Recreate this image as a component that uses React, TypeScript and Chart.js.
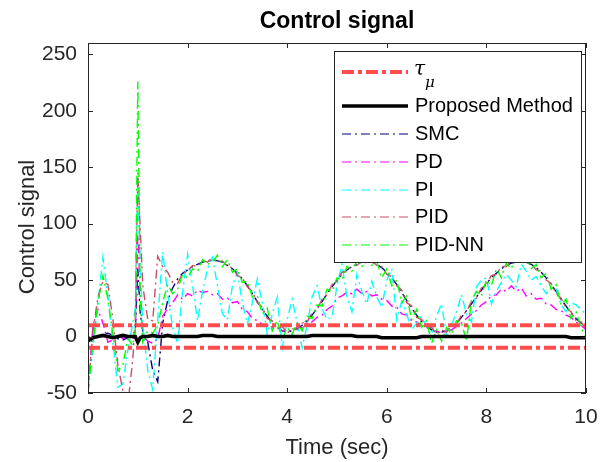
import React, { useEffect, useRef } from "react";
import { Chart, registerables } from "chart.js";

Chart.register(...registerables);

// ---------- data ----------
const timeSec = [
  0, 0.1, 0.2, 0.3, 0.4, 0.5, 0.6, 0.7, 0.8, 0.9,
  0.95, 1.0, 1.05,
  1.1, 1.2, 1.3, 1.4, 1.5, 1.6, 1.7, 1.8, 1.9,
  2.0, 2.1, 2.2, 2.3, 2.4, 2.5, 2.6, 2.7, 2.8, 2.9,
  3.0, 3.1, 3.2, 3.3, 3.4, 3.5, 3.6, 3.7, 3.8, 3.9,
  4.0, 4.1, 4.2, 4.3, 4.4, 4.5, 4.6, 4.7, 4.8, 4.9,
  5.0, 5.1, 5.2, 5.3, 5.4, 5.5, 5.6, 5.7, 5.8, 5.9,
  6.0, 6.1, 6.2, 6.3, 6.4, 6.5, 6.6, 6.7, 6.8, 6.9,
  7.0, 7.1, 7.2, 7.3, 7.4, 7.5, 7.6, 7.7, 7.8, 7.9,
  8.0, 8.1, 8.2, 8.3, 8.4, 8.5, 8.6, 8.7, 8.8, 8.9,
  9.0, 9.1, 9.2, 9.3, 9.4, 9.5, 9.6, 9.7, 9.8, 9.9,
  10.0,
];

const tauTimes = [0, 10];
const tauUpper = [10, 10];
const tauLower = [-10, -10];

const proposedValues = [
  -4, -1, 0, 1, 0, -1, 0, 1, 0, 0,
  0, -5, -1,
  0, 0, 1, 0, 0, 1, 0, 0, 0,
  0, 0, 0, 1, 1, 1, 0, 0, 0, 0,
  0, 0, 0, 0, 0, 0, 0, 0, 0, 0,
  0, 0, 0, 0, 0, 1, 1, 1, 1, 1,
  1, 1, 1, 1, 0, 0, 0, 0, 0, -1,
  -1, -1, -1, -1, -1, -1, -1, 0, 0, 0,
  0, 0, 0, 0, 0, 0, 0, 0, 0, 0,
  0, 0, 0, 0, 0, 0, 0, 0, 0, 0,
  0, 0, 0, 0, 0, 0, 0, -1, -1, -1,
  -1,
];

const smcValues = [
  0, -2, 0, 2, 3, 1, -2, -3, -1, 2,
  5, 60, 20,
  5, -5, -30, -40, 12, 32, 43, 51, 56,
  59, 62, 64, 66, 67, 68, 67, 66, 63, 60,
  56, 51, 45, 38, 31, 24, 18, 12, 8, 5,
  4, 5, 7, 10, 14, 19, 25, 31, 38, 44,
  50, 55, 59, 62, 64, 66, 66, 66, 64, 61,
  57, 52, 46, 39, 32, 25, 19, 13, 9, 6,
  4, 4, 5, 8, 12, 17, 23, 29, 35, 41,
  47, 52, 56, 60, 63, 65, 66, 66, 66, 64,
  61, 57, 52, 46, 40, 33, 27, 21, 16, 12,
  9,
];

const pdValues = [
  -50, 10, 24, 12, -5, -3, 2, -2, 1, -3,
  5, 90, 40,
  0, -4, -6, -2, 18, 25, 30, 37, 33,
  38, 36, 41, 39, 40, 37, 38, 33, 34, 30,
  31, 24, 22, 16, 14, 11, 10, 8, 9, 5,
  6, 5, 8, 8, 12, 13, 17, 19, 24, 27,
  34, 36, 39, 38, 42, 38, 40, 36, 37, 33,
  32, 27, 26, 20, 19, 14, 13, 9, 8, 5,
  5, 3, 5, 6, 9, 12, 16, 20, 23, 28,
  31, 36, 37, 42, 40, 45, 40, 43, 36, 38,
  33, 34, 29, 28, 24, 23, 19, 17, 13, 10,
  6,
];

const piValues = [
  -50, -10, 30, 70, 35, -5, -45, -42, -12, 12,
  25, 140, 60,
  10, -30, -47, 15, 75, 38, 8, -6, 40,
  73, 45, 14, 40, 60, 70, 45, 20, 15, 45,
  57, 30, 11, 30, 51, 30, 2, 20, 35, -10,
  15, 33, 12, -10, 10, 35, 45, 25, 15, 17,
  45, 64, 35, 22, 55, 40, 29, 49, 35, 26,
  50, 60, 15, 31, 20, 6, 12, 18, 8, 2,
  18, 29, 0, 10, 22, 37, 20, 13, 44, 50,
  52, 29, 40, 48, 55, 50, 44, 64, 58, 50,
  53, 45, 38, 44, 42, 28, 22, 30, 28, 24,
  20,
];

const pidValues = [
  -48, 5, 35, 49, 46, 15, -25, -48, -60, -20,
  15, 145, 95,
  45, 15, 14, 71, 62, 57, 48, 47, 56,
  58, 63, 62, 67, 66, 69, 66, 67, 62, 61,
  54, 52, 44, 40, 30, 26, 16, 14, 7, 9,
  3, 7, 6, 12, 13, 21, 24, 33, 37, 46,
  49, 57, 58, 63, 63, 67, 65, 67, 63, 62,
  55, 53, 45, 41, 30, 27, 17, 15, 7, 8,
  2, 6, 4, 10, 11, 19, 22, 31, 34, 43,
  46, 54, 55, 62, 62, 67, 65, 68, 65, 65,
  59, 58, 50, 47, 38, 34, 25, 22, 14, 13,
  7,
];

const pidNnValues = [
  -50, -5, 30, 54, 33, 2, -30, -25, -2, -8,
  5, 226, 30,
  -5, 5, 3, 10, 30, 46, 38, 42, 55,
  52, 60, 58, 68, 64, 66, 72, 62, 68, 57,
  60, 48, 49, 35, 36, 20, 25, 5, 14, -3,
  8, 2, 12, 5, 18, 16, 28, 27, 42, 40,
  52, 50, 62, 58, 67, 62, 70, 63, 66, 52,
  60, 45, 50, 30, 36, 15, 24, 8, 14, -6,
  6, -4, 8, 2, 14, 12, -4, 32, 40, 36,
  50, 45, 60, 52, 65, 60, 72, 64, 70, 60,
  64, 52, 56, 42, 46, 28, 33, 16, 22, 8,
  0,
];

const xTicks = [0, 2, 4, 6, 8, 10];
const yTicks = [-50, 0, 50, 100, 150, 200, 250];

const titleText = "Control signal";
const xLabel = "Time (sec)";
const yLabel = "Control signal";
const legendNames = ["τμ", "Proposed Method", "SMC", "PD", "PI", "PID", "PID-NN"];

// ---------- styles ----------
const FONT = '"Liberation Sans", Arial, Helvetica, sans-serif';
const AXIS_COLOR = "#262626";
const TAU_COLOR = "#FF4D4D";
const TAU_DASH = [12, 4, 4, 4];
const THIN_DASH = [9, 4, 2, 4];

const seriesStyles = [
  { color: TAU_COLOR, width: 4, dash: TAU_DASH },
  { color: "#000000", width: 3.5, dash: [] as number[] },
  { color: "#000080", width: 1.4, dash: THIN_DASH },
  { color: "#FF00FF", width: 1.4, dash: THIN_DASH },
  { color: "#00FFFF", width: 1.4, dash: THIN_DASH },
  { color: "#CC4D66", width: 1.4, dash: THIN_DASH },
  { color: "#00FF00", width: 1.4, dash: THIN_DASH },
];

const toPoints = (xs: number[], ys: number[]) => xs.map((x, i) => ({ x, y: ys[i] }));

const decorPlugin = {
  id: "decor",
  afterDatasetsDraw(chart: any) {
    const { ctx, chartArea: a, scales } = chart;
    ctx.save();
    ctx.strokeStyle = AXIS_COLOR;
    ctx.lineWidth = 1;
    ctx.setLineDash([]);
    ctx.strokeRect(a.left + 0.5, a.top + 0.5, a.right - a.left - 1, a.bottom - a.top - 1);
    ctx.beginPath();
    const tl = 5;
    xTicks.forEach((v) => {
      const x = Math.round(scales.x.getPixelForValue(v)) + 0.5;
      ctx.moveTo(x, a.bottom);
      ctx.lineTo(x, a.bottom - tl);
      ctx.moveTo(x, a.top);
      ctx.lineTo(x, a.top + tl);
    });
    yTicks.forEach((v) => {
      const y = Math.round(scales.y.getPixelForValue(v)) + 0.5;
      ctx.moveTo(a.left, y);
      ctx.lineTo(a.left + tl, y);
      ctx.moveTo(a.right, y);
      ctx.lineTo(a.right - tl, y);
    });
    ctx.stroke();
    ctx.restore();
  },
  afterDraw(chart: any) {
    const { ctx, chartArea: a } = chart;
    ctx.save();
    // title
    ctx.fillStyle = "#000000";
    ctx.font = `bold 23px ${FONT}`;
    ctx.textAlign = "center";
    ctx.textBaseline = "middle";
    ctx.fillText(titleText, (a.left + a.right) / 2, 22);
    // x label
    ctx.fillStyle = AXIS_COLOR;
    ctx.font = `22px ${FONT}`;
    ctx.fillText(xLabel, (a.left + a.right) / 2, 448);
    // y label
    ctx.save();
    ctx.translate(28, 227);
    ctx.rotate(-Math.PI / 2);
    ctx.fillText(yLabel, 0, 0);
    ctx.restore();

    // legend
    const bx = 334, by = 51, bw = 247, bh = 211;
    ctx.fillStyle = "#ffffff";
    ctx.fillRect(bx, by, bw, bh);
    ctx.strokeStyle = AXIS_COLOR;
    ctx.lineWidth = 1;
    ctx.setLineDash([]);
    ctx.strokeRect(bx + 0.5, by + 0.5, bw, bh);
    const rowY = [72, 106, 134, 162, 190, 217, 245];
    legendNames.forEach((name, i) => {
      const st = seriesStyles[i];
      const y = rowY[i];
      ctx.beginPath();
      ctx.strokeStyle = st.color;
      ctx.lineWidth = i === 0 ? 4 : i === 1 ? 3.5 : 1.2;
      ctx.setLineDash(st.dash);
      ctx.moveTo(342, y);
      ctx.lineTo(408, y);
      ctx.stroke();
      ctx.setLineDash([]);
      ctx.fillStyle = "#000000";
      ctx.textAlign = "left";
      ctx.textBaseline = "middle";
      if (i === 0) {
        ctx.font = `italic 20px "DejaVu Serif", serif`;
        ctx.fillText("τ", 414, y - 2);
        ctx.font = `italic 15px "DejaVu Serif", serif`;
        ctx.fillText("μ", 425, y + 11);
      } else {
        ctx.font = `20px ${FONT}`;
        ctx.fillText(name, 415, y);
      }
    });
    ctx.restore();
  },
};

export default function App() {
  const ref = useRef<HTMLCanvasElement | null>(null);
  useEffect(() => {
    if (!ref.current) return;
    const mk = (label: string, xs: number[], ys: number[], styleIdx: number, order: number) => ({
      label,
      data: toPoints(xs, ys),
      borderColor: seriesStyles[styleIdx].color,
      borderWidth: seriesStyles[styleIdx].width,
      borderDash: seriesStyles[styleIdx].dash,
      pointRadius: 0,
      tension: 0,
      fill: false,
      order,
    });
    const chart = new Chart(ref.current, {
      type: "line",
      data: {
        datasets: [
          mk("tau upper", tauTimes, tauUpper, 0, 0),
          mk("tau lower", tauTimes, tauLower, 0, 0),
          mk("Proposed Method", timeSec, proposedValues, 1, 1),
          mk("SMC", timeSec, smcValues, 2, 7),
          mk("PD", timeSec, pdValues, 3, 6),
          mk("PI", timeSec, piValues, 4, 5),
          mk("PID", timeSec, pidValues, 5, 4),
          mk("PID-NN", timeSec, pidNnValues, 6, 3),
        ],
      },
      options: {
        responsive: false,
        animation: false,
        devicePixelRatio: 1,
        layout: { padding: { top: 43, right: 14, left: 0, bottom: 0 } },
        plugins: { legend: { display: false }, tooltip: { enabled: false }, title: { display: false } },
        scales: {
          x: {
            type: "linear",
            min: 0,
            max: 10,
            grid: { display: false, drawTicks: false },
            border: { display: false },
            afterBuildTicks: (s: any) => {
              s.ticks = xTicks.map((v) => ({ value: v }));
            },
            afterFit: (s: any) => {
              s.height = 69;
              s.paddingLeft = 0;
              s.paddingRight = 0;
            },
            ticks: {
              color: AXIS_COLOR,
              font: { family: FONT, size: 21 },
              padding: 12,
              maxRotation: 0,
              autoSkip: false,
            },
          },
          y: {
            type: "linear",
            min: -50,
            max: 260,
            grid: { display: false, drawTicks: false },
            border: { display: false },
            afterBuildTicks: (s: any) => {
              s.ticks = yTicks.map((v) => ({ value: v }));
            },
            afterFit: (s: any) => {
              s.width = 88;
              s.paddingTop = 0;
              s.paddingBottom = 0;
            },
            ticks: {
              color: AXIS_COLOR,
              font: { family: FONT, size: 21 },
              padding: 11,
              autoSkip: false,
            },
          },
        },
      },
      plugins: [decorPlugin],
    });
    return () => chart.destroy();
  }, []);
  return (
    <div style={{ position: "absolute", left: 0, top: 0, width: 600, height: 462, background: "#fff" }}>
      <canvas ref={ref} width={600} height={462} style={{ display: "block" }} />
    </div>
  );
}
